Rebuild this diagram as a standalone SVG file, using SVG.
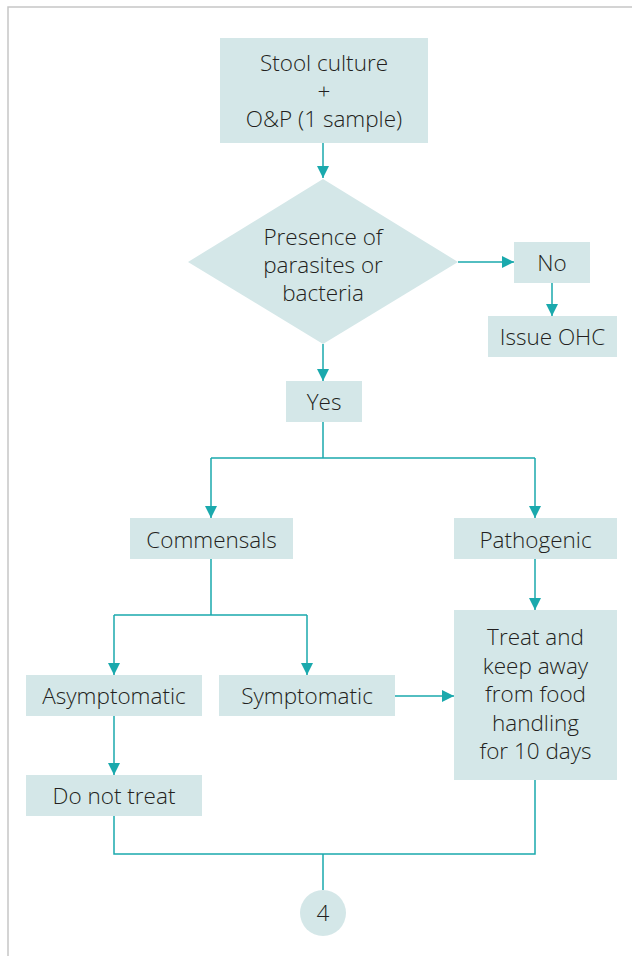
<svg xmlns="http://www.w3.org/2000/svg" width="632" height="956" viewBox="0 0 632 956">
<defs>
<style>
.box{fill:#d4e7e8;}
.t{font-family:"Open Sans","Liberation Sans",sans-serif;font-size:22.5px;font-weight:300;fill:#231f20;text-anchor:middle;}
.c{fill:none;stroke:#1aa9ad;stroke-width:1.5;}
</style>
<marker id="ah" viewBox="0 0 12 12" markerWidth="12" markerHeight="12" refX="12" refY="6" orient="auto" markerUnits="userSpaceOnUse">
<path d="M0,0 L12,6 L0,12 Z" fill="#1aa9ad"/>
</marker>
</defs>
<rect width="632" height="956" fill="#ffffff"/>
<path d="M8,956 V7 H632" fill="none" stroke="#c6c6c6" stroke-width="1.5"/>
<g id="connectors">
<line class="c" x1="323" y1="143" x2="323" y2="178" marker-end="url(#ah)"/>
<line class="c" x1="458" y1="262" x2="514" y2="262" marker-end="url(#ah)"/>
<line class="c" x1="552" y1="283" x2="552" y2="316" marker-end="url(#ah)"/>
<line class="c" x1="323" y1="344" x2="323" y2="381" marker-end="url(#ah)"/>
<path class="c" d="M323,422 V458"/>
<path class="c" d="M211,458 H535"/>
<line class="c" x1="211" y1="458" x2="211" y2="518" marker-end="url(#ah)"/>
<line class="c" x1="535" y1="458" x2="535" y2="518" marker-end="url(#ah)"/>
<line class="c" x1="535" y1="559" x2="535" y2="610" marker-end="url(#ah)"/>
<path class="c" d="M211,559 V615 M114,615 H307"/>
<line class="c" x1="114" y1="615" x2="114" y2="675" marker-end="url(#ah)"/>
<line class="c" x1="307" y1="615" x2="307" y2="675" marker-end="url(#ah)"/>
<line class="c" x1="395" y1="696" x2="454" y2="696" marker-end="url(#ah)"/>
<line class="c" x1="114" y1="716" x2="114" y2="775" marker-end="url(#ah)"/>
<path class="c" d="M114,816 V854 H535 V780 M323,854 V890"/>
</g>
<g id="stool">
<rect class="box" x="220" y="38" width="208" height="105"/>
<text class="t" x="324" y="71">Stool culture</text>
<text class="t" x="324" y="99">+</text>
<text class="t" x="324" y="127">O&amp;P (1 sample)</text>
</g>
<g id="presence">
<polygon class="box" points="323,179 458,262 323,344 188,262"/>
<text class="t" x="323" y="245">Presence of</text>
<text class="t" x="323" y="273">parasites or</text>
<text class="t" x="323" y="301">bacteria</text>
</g>
<g id="no">
<rect class="box" x="514" y="242" width="76" height="41"/>
<text class="t" x="552" y="271">No</text>
</g>
<g id="issue">
<rect class="box" x="488" y="316" width="129" height="41"/>
<text class="t" x="552.5" y="345">Issue OHC</text>
</g>
<g id="yes">
<rect class="box" x="286" y="381" width="76" height="41"/>
<text class="t" x="324" y="410">Yes</text>
</g>
<g id="commensals">
<rect class="box" x="130" y="518" width="163" height="41"/>
<text class="t" x="211.5" y="548">Commensals</text>
</g>
<g id="pathogenic">
<rect class="box" x="454" y="518" width="163" height="41"/>
<text class="t" x="535.5" y="548">Pathogenic</text>
</g>
<g id="asymptomatic">
<rect class="box" x="26" y="675" width="176" height="41"/>
<text class="t" x="114" y="704">Asymptomatic</text>
</g>
<g id="symptomatic">
<rect class="box" x="219" y="675" width="176" height="41"/>
<text class="t" x="307" y="704">Symptomatic</text>
</g>
<g id="treat">
<rect class="box" x="454" y="610" width="163" height="170"/>
<text class="t" x="535.5" y="645">Treat and</text>
<text class="t" x="535.5" y="673.5">keep away</text>
<text class="t" x="535.5" y="702">from food</text>
<text class="t" x="535.5" y="730.5">handling</text>
<text class="t" x="535.5" y="759">for 10 days</text>
</g>
<g id="donottreat">
<rect class="box" x="26" y="775" width="176" height="41"/>
<text class="t" x="114" y="804">Do not treat</text>
</g>
<g id="four">
<circle class="box" cx="323" cy="913" r="23"/>
<text class="t" x="323" y="921">4</text>
</g>
</svg>
